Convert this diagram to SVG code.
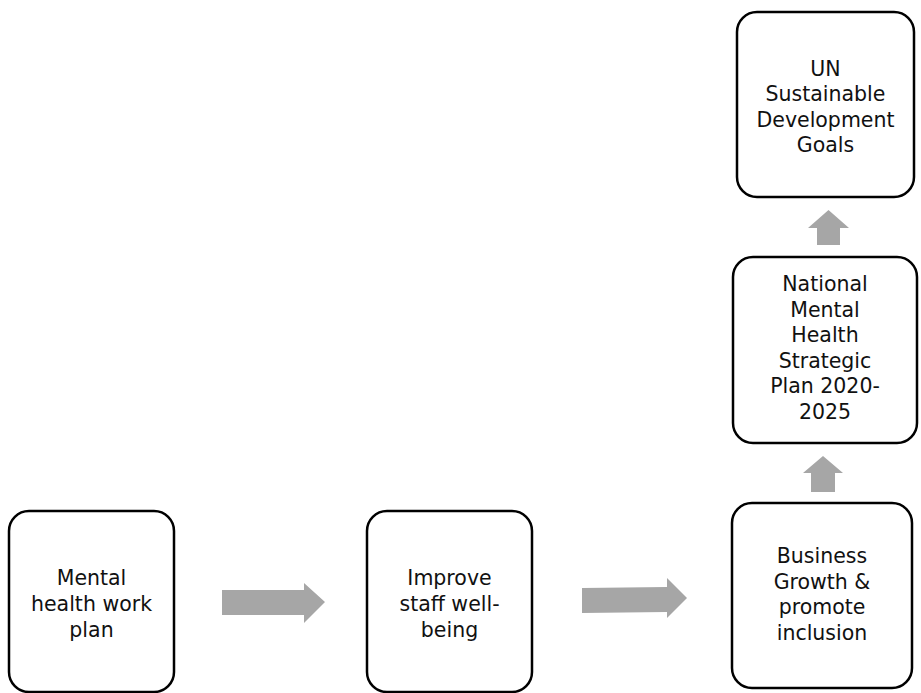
<svg xmlns="http://www.w3.org/2000/svg" width="921" height="693" viewBox="0 0 921 693">
<style>
.box{fill:#fff;stroke:#000;stroke-width:2.5}
.lbl{font-family:"DejaVu Sans",sans-serif;font-size:20.5px;fill:#111;text-anchor:middle}
.arr{fill:#a6a6a6}
</style>
<rect width="921" height="693" fill="#fff"/>
<g id="connectors">
<polygon class="arr" points="222,590 304,590 304,583 325,602 304,623 304,615 222,615"/>
<polygon class="arr" points="582,588 667,587 667,578 687,598 667,618 667,612 582,613"/>
<polygon class="arr" points="817,245 817,228 808,228 828.5,210 849,228 840,228 840,245"/>
<polygon class="arr" points="811,492 811,473 803,473 823,456 843,473 835,473 835,492"/>
</g>
<g id="n1">
<rect class="box" x="9" y="511" width="165" height="181" rx="20"/>
<text class="lbl" x="91.5"><tspan x="91.5" y="585">Mental</tspan><tspan x="91.5" y="611">health work</tspan><tspan x="91.5" y="637">plan</tspan></text>
</g>
<g id="n2">
<rect class="box" x="367" y="511" width="165" height="181" rx="20"/>
<text class="lbl"><tspan x="449.5" y="585">Improve</tspan><tspan x="449.5" y="611">staff well-</tspan><tspan x="449.5" y="637">being</tspan></text>
</g>
<g id="n3">
<rect class="box" x="732" y="503" width="180" height="185" rx="20"/>
<text class="lbl"><tspan x="822" y="563">Business</tspan><tspan x="822" y="589">Growth &amp;</tspan><tspan x="822" y="614">promote</tspan><tspan x="822" y="640">inclusion</tspan></text>
</g>
<g id="n4">
<rect class="box" x="733" y="257" width="184" height="186" rx="20"/>
<text class="lbl"><tspan x="825" y="291">National</tspan><tspan x="825" y="317">Mental</tspan><tspan x="825" y="342">Health</tspan><tspan x="825" y="368">Strategic</tspan><tspan x="825" y="393">Plan 2020-</tspan><tspan x="825" y="419">2025</tspan></text>
</g>
<g id="n5">
<rect class="box" x="737" y="12" width="177" height="185" rx="20"/>
<text class="lbl"><tspan x="825.5" y="76">UN</tspan><tspan x="825.5" y="101">Sustainable</tspan><tspan x="825.5" y="127">Development</tspan><tspan x="825.5" y="152">Goals</tspan></text>
</g>
</svg>
